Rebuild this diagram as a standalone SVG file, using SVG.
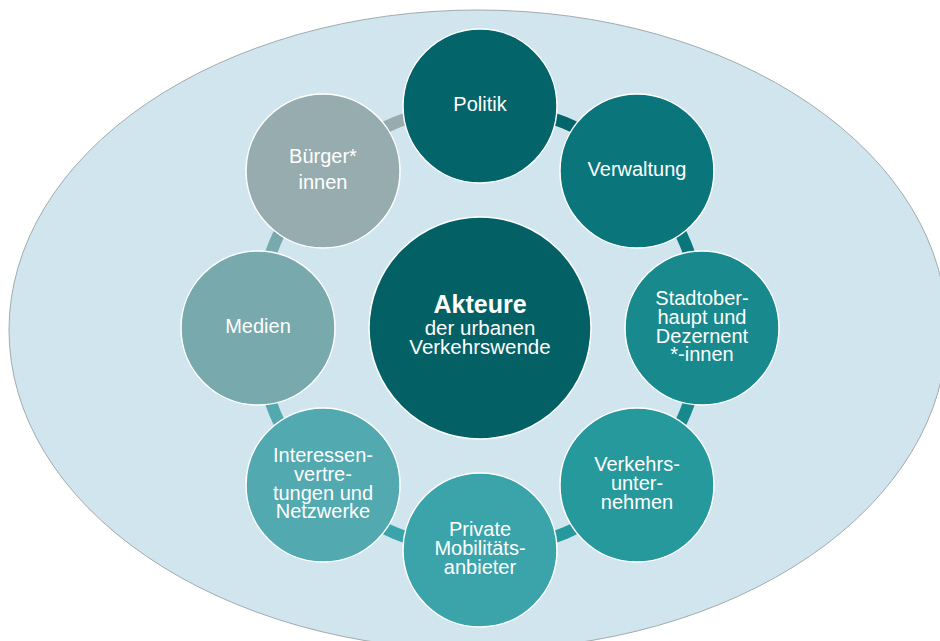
<svg xmlns="http://www.w3.org/2000/svg" width="940" height="641" viewBox="0 0 940 641">
<style>
.node{stroke:#ffffff;stroke-width:1.5}
.t{font-family:"Liberation Sans",Arial,sans-serif;font-size:20px;fill:#ffffff;text-anchor:middle}
.seg{fill:none;stroke-width:12}
</style>
<rect width="940" height="641" fill="#ffffff"/>
<ellipse id="background" cx="478" cy="330" rx="469" ry="320" fill="#d0e5ed" stroke="#a3abae" stroke-width="1"/>
<g id="connectors">
<path class="seg" stroke="#03646a" d="M480 106 A222 222 0 0 1 636.98 171.02"/>
<path class="seg" stroke="#0a767c" d="M636.98 171.02 A222 222 0 0 1 702 328"/>
<path class="seg" stroke="#188a8e" d="M702 328 A222 222 0 0 1 636.98 484.98"/>
<path class="seg" stroke="#26999d" d="M636.98 484.98 A222 222 0 0 1 480 550"/>
<path class="seg" stroke="#3aa4aa" d="M480 550 A222 222 0 0 1 323.02 484.98"/>
<path class="seg" stroke="#52a9b0" d="M323.02 484.98 A222 222 0 0 1 258 328"/>
<path class="seg" stroke="#77a9ad" d="M258 328 A222 222 0 0 1 323.02 171.02"/>
<path class="seg" stroke="#97acaf" d="M323.02 171.02 A222 222 0 0 1 480 106"/>
</g>
<g id="center">
<circle class="node" cx="480" cy="328" r="111" fill="#036166"/>
<text class="t" x="480" y="313" style="font-weight:bold;font-size:25px">Akteure</text>
<text class="t" x="480" y="335" style="font-size:20.5px">der urbanen</text>
<text class="t" x="480" y="354" style="font-size:20.5px">Verkehrswende</text>
</g>
<g id="politik">
<circle class="node" cx="480" cy="106" r="77" fill="#03646a"/>
<text class="t" x="480" y="111">Politik</text>
</g>
<g id="verwaltung">
<circle class="node" cx="636.98" cy="171.02" r="77" fill="#0a767c"/>
<text class="t" x="637" y="176">Verwaltung</text>
</g>
<g id="stadtoberhaupt">
<circle class="node" cx="702" cy="328" r="77" fill="#188a8e"/>
<text class="t" x="702" y="305">Stadtober-</text>
<text class="t" x="702" y="324">haupt und</text>
<text class="t" x="702" y="342.5">Dezernent</text>
<text class="t" x="702" y="361">*-innen</text>
</g>
<g id="verkehrsunternehmen">
<circle class="node" cx="636.98" cy="484.98" r="77" fill="#26999d"/>
<text class="t" x="637" y="471">Verkehrs-</text>
<text class="t" x="637" y="490">unter-</text>
<text class="t" x="637" y="509">nehmen</text>
</g>
<g id="private">
<circle class="node" cx="480" cy="550" r="77" fill="#3aa4aa"/>
<text class="t" x="480" y="536">Private</text>
<text class="t" x="480" y="555">Mobilitäts-</text>
<text class="t" x="480" y="574">anbieter</text>
</g>
<g id="interessen">
<circle class="node" cx="323.02" cy="484.98" r="77" fill="#52a9b0"/>
<text class="t" x="323" y="462">Interessen-</text>
<text class="t" x="323" y="481">vertre-</text>
<text class="t" x="323" y="499.5">tungen und</text>
<text class="t" x="323" y="518">Netzwerke</text>
</g>
<g id="medien">
<circle class="node" cx="258" cy="328" r="77" fill="#77a9ad"/>
<text class="t" x="258" y="333">Medien</text>
</g>
<g id="buerger">
<circle class="node" cx="323.02" cy="171.02" r="77" fill="#97acaf"/>
<text class="t" x="323" y="163">Bürger*</text>
<text class="t" x="323" y="189">innen</text>
</g>
</svg>
